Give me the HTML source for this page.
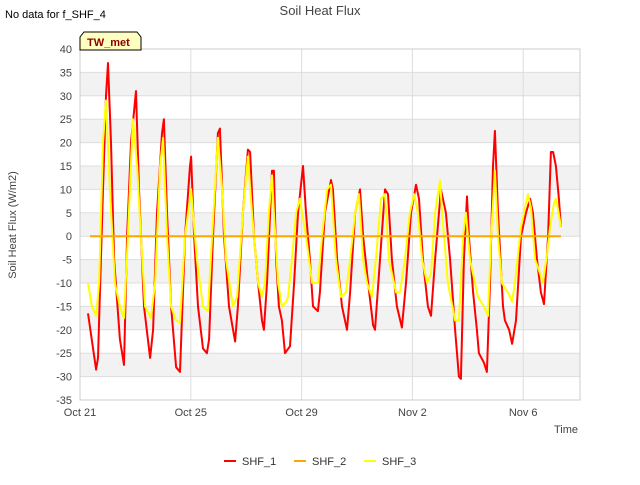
<!DOCTYPE html>
<html><head><meta charset="utf-8"><style>
body{margin:0;background:#fff;font-family:"Liberation Sans",sans-serif;}
svg text{font-family:"Liberation Sans",sans-serif;}
</style></head><body>
<svg id="chart" width="640" height="480" viewBox="0 0 640 480">
<rect width="640" height="480" fill="#fff"/>
<text x="320" y="15" text-anchor="middle" font-size="13" fill="#444">Soil Heat Flux</text>
<text x="5" y="18" font-size="11" fill="#000">No data for f_SHF_4</text>
<g id="grid"></g>
<g id="series"></g>
<g id="axes"></g>
<text x="16" y="225" font-size="11" fill="#444" text-anchor="middle" transform="rotate(-90 16 225)">Soil Heat Flux (W/m2)</text>
<text x="578" y="433" font-size="11" fill="#444" text-anchor="end">Time</text>
<g>
<path d="M80,50 L80,37 L84,32 L137,32 L141,37 L141,50 Z" fill="#ffffc0" stroke="#000" stroke-width="1"/>
<text x="87" y="46" font-size="11" font-weight="bold" fill="#8b0000">TW_met</text>
</g>
<g id="legend"></g>
</svg>
<script>
const yTicks=[-35,-30,-25,-20,-15,-10,-5,0,5,10,15,20,25,30,35,40];
const xTickDays=[0,4,8,12,16];
const xTickLabels=["Oct 21","Oct 25","Oct 29","Nov 2","Nov 6"];
const shf1Days=[0.29,0.58,0.65,0.83,0.94,1.01,1.12,1.23,1.44,1.59,1.70,1.84,2.02,2.13,2.31,2.53,2.64,2.78,2.96,3.03,3.14,3.29,3.47,3.61,3.79,3.97,4.01,4.12,4.26,4.44,4.58,4.66,4.80,4.98,5.05,5.20,5.38,5.60,5.70,5.88,6.06,6.14,6.28,6.43,6.57,6.64,6.75,6.93,7.00,7.08,7.18,7.29,7.40,7.58,7.73,7.87,8.05,8.16,8.30,8.41,8.59,8.66,8.84,9.06,9.13,9.28,9.46,9.64,9.75,9.93,10.11,10.22,10.40,10.58,10.65,10.83,11.01,11.12,11.26,11.44,11.62,11.77,11.95,12.13,12.24,12.38,12.56,12.67,12.82,13.03,13.21,13.36,13.54,13.68,13.75,13.86,13.97,14.04,14.19,14.33,14.40,14.58,14.69,14.80,14.91,14.98,15.09,15.27,15.34,15.49,15.60,15.74,15.92,16.10,16.25,16.35,16.50,16.64,16.75,16.90,17.00,17.08,17.18,17.29,17.36];
const shf1Values=[-16.5,-28.5,-26,10,30,37,20,-5,-22,-27.5,0,20,31,10,-15,-26,-20,5,22,25,5,-15,-28,-29,0,15,17,0,-15,-24,-25,-22,0,22,23,0,-15,-22.5,-15,5,18.5,18,0,-10,-18,-20,-10,14,14,-5,-15,-18,-25,-23.5,-10,5,15,5,-5,-15,-16,-12,5,12,10,-5,-15,-20,-12,5,10,0,-10,-19,-20,-5,10,9,-5,-15,-19.5,-10,5,11,8,-5,-15,-17,-5,10,5,-5,-20,-30,-30.5,-5,8.5,0,-12,-20,-25,-27,-29,-10,15,22.5,5,-15,-18,-20,-23,-18,0,5,8,5,-5,-12,-14.5,0,18,18,15,8,2];
const shf2Days=[0.36,17.36];
const shf2Values=[0,0];
const shf3Days=[0.29,0.43,0.58,0.69,0.83,0.94,1.08,1.26,1.44,1.59,1.73,1.91,2.06,2.20,2.35,2.56,2.71,2.89,3.00,3.14,3.29,3.47,3.61,3.79,4.01,4.08,4.22,4.44,4.62,4.77,4.98,5.13,5.27,5.52,5.67,5.88,6.06,6.21,6.43,6.57,6.68,6.82,6.93,7.00,7.15,7.29,7.44,7.51,7.65,7.80,7.94,8.16,8.38,8.59,8.74,8.92,9.06,9.24,9.42,9.60,9.75,9.93,10.07,10.22,10.36,10.54,10.68,10.87,11.01,11.15,11.41,11.55,11.73,11.91,12.06,12.20,12.35,12.53,12.67,12.82,13.00,13.07,13.28,13.54,13.68,13.83,13.93,14.08,14.37,14.58,14.73,14.84,14.98,15.09,15.23,15.45,15.60,15.70,15.92,16.17,16.28,16.43,16.61,16.71,16.86,16.97,17.11,17.18,17.25,17.36];
const shf3Values=[-10,-15,-17,-10,20,29,10,-10,-15,-17.5,0,25,15,0,-15,-17.5,-10,15,21,0,-15,-18,-18.5,0,10,5,-5,-15,-16,0,21,10,-5,-15,-13,5,17,5,-10,-13,-10,5,13,5,-10,-15,-14,-13,-5,5,8,0,-10,-10,0,10,11,-5,-13,-12,-5,5,9,-5,-10,-13,-5,8,9,-5,-12,-12,-5,5,9,5,-5,-10,-8,5,12,5,-10,-18,-18,0,5,-5,-13,-15,-17,0,14,0,-10,-12,-14,-10,2,9,6,-5,-8,-10,-4,2,7,8,6,2];

const L=80,R=580,T=49,B=400;
const X=d=>L+d*27.7;
const Y=v=>T+(40-v)*(B-T)/75;
const NS="http://www.w3.org/2000/svg";
function mk(tag,attrs,parent){const e=document.createElementNS(NS,tag);for(const k in attrs)e.setAttribute(k,attrs[k]);parent.appendChild(e);return e;}
const grid=document.getElementById('grid'),axes=document.getElementById('axes'),series=document.getElementById('series'),legend=document.getElementById('legend');
for(let i=0;i<yTicks.length-1;i++){
  if(i%2===1){const r=mk('rect',{x:L,y:Y(yTicks[i+1]),width:R-L,height:Y(yTicks[i])-Y(yTicks[i+1]),fill:'#f2f2f2'},grid);
  
  }
}
yTicks.forEach(v=>{
  const l=mk('line',{x1:L,x2:R,y1:Y(v),y2:Y(v),stroke:'#ddd','stroke-width':1},grid);
  
  
  const t=mk('text',{x:L-8,y:Y(v)+4,'text-anchor':'end','font-size':11,fill:'#444'},axes);
  t.textContent=v;
  
  
});
xTickDays.forEach((d,i)=>{
  const l=mk('line',{x1:X(d),x2:X(d),y1:T,y2:B,stroke:'#ddd','stroke-width':1},grid);
  
  
  const t=mk('text',{x:X(d),y:B+16,'text-anchor':'middle','font-size':11,fill:'#444'},axes);
  t.textContent=xTickLabels[i];
  
  
});
const frame=mk('rect',{x:L,y:T,width:R-L,height:B-T,fill:'none',stroke:'#ccc'},axes);


function line(days,vals,color,name){
  const p=mk('polyline',{points:days.map((d,i)=>X(d).toFixed(1)+','+Y(vals[i]).toFixed(1)).join(' '),fill:'none',stroke:color,'stroke-width':2,'stroke-linejoin':'round'},series);
  
  
}
line(shf1Days,shf1Values,'#ff0000','shf-1-line');
line(shf3Days,shf3Values,'#ffff00','shf-3-line');
line(shf2Days,shf2Values,'#ffa500','shf-2-line');
const leg=[["SHF_1","#ff0000",224],["SHF_2","#ffa500",294],["SHF_3","#ffff00",364]];
leg.forEach(([n,c,x])=>{
  const g=mk('g',{},legend);
  
  
  mk('line',{x1:x,x2:x+12,y1:461,y2:461,stroke:c,'stroke-width':2},g);
  const t=mk('text',{x:x+18,y:465,'font-size':11,fill:'#333'},g);
  t.textContent=n;
});
</script>
</body></html>
